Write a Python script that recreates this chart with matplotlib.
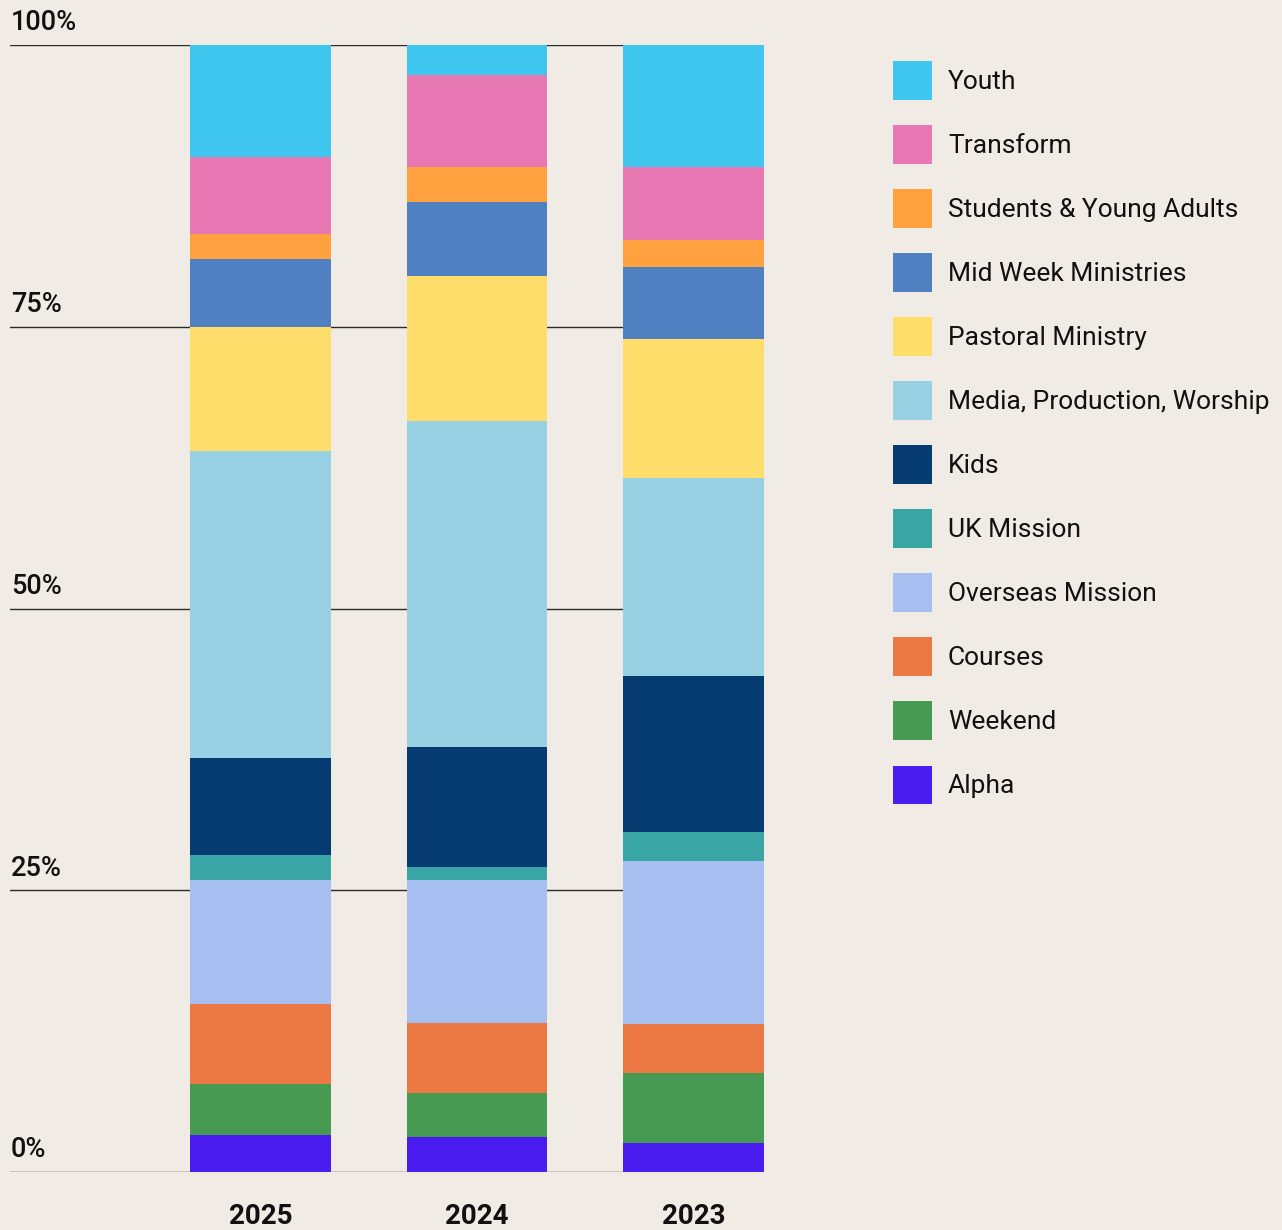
import matplotlib
matplotlib.use("Agg")
import matplotlib.pyplot as plt
from matplotlib.patches import Patch
from matplotlib.transforms import blended_transform_factory
import numpy as np

plt.rcParams['font.family'] = ['Roboto', 'DejaVu Sans']

years = ['2025', '2024', '2023']
# bottom to top
categories = ['Alpha', 'Weekend', 'Courses', 'Overseas Mission', 'UK Mission', 'Kids',
              'Media, Production, Worship', 'Pastoral Ministry', 'Mid Week Ministries',
              'Students & Young Adults', 'Transform', 'Youth']
share_2025 = [3.3, 4.5, 7.1, 11.0, 2.2, 8.6, 27.3, 11.0, 6.0, 2.2, 6.9, 9.9]
share_2024 = [3.1, 3.9, 6.2, 12.7, 1.2, 10.6, 28.9, 12.9, 6.6, 3.1, 8.1, 2.7]
share_2023 = [2.6, 6.2, 4.3, 14.5, 2.6, 13.8, 17.6, 12.3, 6.4, 2.4, 6.5, 10.8]
colors = ['#4A1CF0', '#479A52', '#EC7843', '#A6BEF0', '#39A5A5', '#053B70',
          '#98D1E3', '#FFDD6A', '#4F80C2', '#FFA13E', '#E878B3', '#3EC6EF']
y_ticks = [0, 25, 50, 75, 100]

bg = '#F0EBE4'
fig = plt.figure(figsize=(12.82, 12.30), dpi=100, facecolor=bg)
W, H = 1282, 1230
ax = fig.add_axes([10 / W, (H - 1172) / H, (764 - 10) / W, (1172 - 45) / H])
ax.set_facecolor(bg)

data = np.array([share_2025, share_2024, share_2023])
x = np.arange(len(years))
width = 0.651
bottom = np.zeros(len(years))
for i, cat in enumerate(categories):
    ax.bar(x, data[:, i], width, bottom=bottom, color=colors[i], zorder=3, linewidth=0)
    bottom += data[:, i]

for t in y_ticks:
    ax.axhline(t, color='#2a2a2a', lw=1.0, zorder=1)

ax.set_xlim(-1.157, 2.3255)
ax.set_ylim(0, 100)
for s in ax.spines.values():
    s.set_visible(False)
ax.set_yticks([])
ax.set_xticks(x)
ax.set_xticklabels(years, fontsize=20, fontweight='bold', color='#111111')
ax.tick_params(axis='x', length=0, pad=22)

trans = blended_transform_factory(ax.transAxes, ax.transData)
for t in y_ticks:
    ax.annotate(f'{t}%', xy=(0, t), xycoords=trans, xytext=(0.5, 10.5), textcoords='offset points',
                ha='left', va='baseline', fontsize=19.5, fontweight='medium', color='#111111')

handles = [Patch(facecolor=c, edgecolor='none', label=l) for c, l in zip(colors, categories)][::-1]
fig.legend(handles=handles, loc='upper left', bbox_to_anchor=(893 / W, 1 - 61 / H),
           frameon=False, fontsize=19, handlelength=1.48, handleheight=1.88,
           labelspacing=0.96, handletextpad=0.6, borderpad=0, borderaxespad=0,
           labelcolor='#111111')

fig.savefig('out.png', dpi=100, facecolor=bg)
